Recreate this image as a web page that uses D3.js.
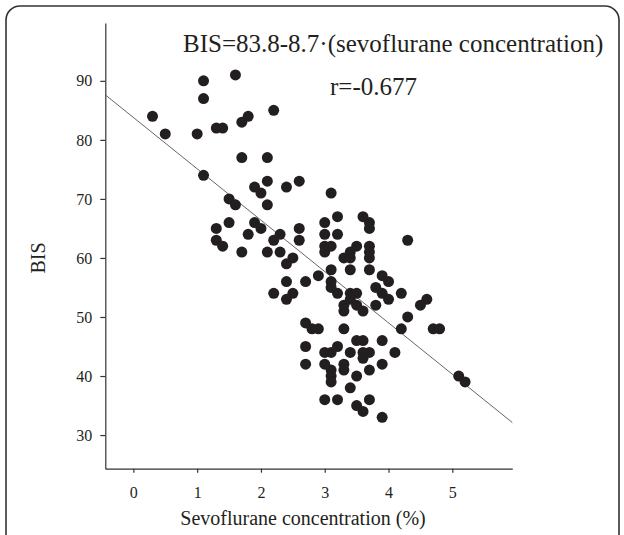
<!DOCTYPE html>
<html><head><meta charset="utf-8">
<script src="https://cdn.jsdelivr.net/npm/d3@7"></script>
<style>
html,body{margin:0;padding:0;background:#fff;}
svg{display:block;}
text{font-family:"Liberation Serif","Times New Roman",serif;fill:#231f20;}
</style></head>
<body>
<script>
const sevo = [0.3,0.5,1.0,1.1,1.1,1.6,1.3,1.4,1.7,1.8,2.2,1.7,2.1,1.1,2.1,1.9,2.0,2.4,2.6,3.1,
1.5,1.6,2.1,1.5,1.3,1.9,2.0,1.8,1.3,1.4,1.7,2.2,2.3,2.1,2.3,2.6,2.6,2.5,2.4,2.2,
2.5,2.4,2.7,2.4,2.9,3.0,3.2,3.6,3.7,3.7,3.0,3.2,4.3,3.0,3.1,3.0,3.5,3.4,3.3,3.4,
3.7,3.7,3.7,3.1,3.4,3.7,3.1,3.9,4.0,3.1,3.2,3.8,3.9,4.0,4.2,3.4,3.5,4.6,4.5,3.3,
3.3,3.5,3.6,3.4,3.8,4.3,4.2,4.7,4.8,3.9,4.1,3.9,5.1,5.2,2.7,2.8,2.9,3.3,2.7,3.0,
3.1,3.2,3.5,3.6,3.4,3.6,3.7,3.6,2.7,3.0,3.1,3.1,3.1,3.3,3.3,3.5,3.7,3.4,3.0,3.2,
3.5,3.6,3.7,3.9];
const bis = [84,81,81,90,87,91,82,82,83,84,85,77,77,74,73,72,71,72,73,71,
70,69,69,66,65,66,65,64,63,62,61,63,64,61,61,65,63,60,59,54,
54,53,56,56,57,66,67,67,66,65,64,64,63,62,62,61,62,61,60,60,
62,61,60,58,58,58,56,57,56,55,54,55,54,53,54,54,54,53,52,52,
51,52,51,53,52,50,48,48,48,46,44,42,40,39,49,48,48,48,45,44,
44,45,46,46,44,44,44,43,42,42,41,40,39,42,41,40,41,38,36,36,
35,34,36,33];
const xTicks = [0,1,2,3,4,5];
const yTicks = [30,40,50,60,70,80,90];
const intercept = 83.8, slope = -8.7;
const xDomain = [-0.44, 5.94];
const yDomain = [24.3, 99.8];
const titleText = "BIS=83.8-8.7\u00b7(sevoflurane concentration)";
const rText = "r=-0.677";
const xLabel = "Sevoflurane concentration (%)";
const yLabel = "BIS";

const W = 624, H = 535;
const svg = d3.select("body").append("svg").attr("width", W).attr("height", H);

// frame
svg.append("rect").attr("x",6).attr("y",6).attr("width",613).attr("height",560)
  .attr("rx",14).attr("ry",14).attr("fill","none").attr("stroke","#333").attr("stroke-width",1.6);

const x = d3.scaleLinear().domain(xDomain).range([105.3, 512.3]);
const y = d3.scaleLinear().domain(yDomain).range([468.7, 23]);

const xAxis = svg.append("g").attr("transform","translate(0,468.7)")
  .call(d3.axisBottom(x).tickValues(xTicks).tickSizeInner(4).tickSizeOuter(0).tickPadding(14).tickFormat(d3.format("d")));
const yAxis = svg.append("g").attr("transform","translate(105.3,0)")
  .call(d3.axisLeft(y).tickValues(yTicks).tickSizeInner(5).tickSizeOuter(0).tickPadding(8).tickFormat(d3.format("d")));
[xAxis,yAxis].forEach(g=>{
  g.select(".domain").attr("stroke","#333").attr("stroke-width",1.2);
  g.selectAll(".tick line").attr("stroke","#333").attr("stroke-width",1.2);
  g.selectAll(".tick text").attr("font-size",16).attr("font-family","Liberation Serif").attr("fill","#231f20");
});

// regression line
svg.append("line")
  .attr("x1", x(xDomain[0])).attr("y1", y(intercept + slope*xDomain[0]))
  .attr("x2", x(xDomain[1])).attr("y2", y(intercept + slope*xDomain[1]))
  .attr("stroke","#555").attr("stroke-width",0.9);

// points
svg.append("g").selectAll("circle").data(sevo.map((s,i)=>[s,bis[i]])).join("circle")
  .attr("cx", d=>x(d[0])).attr("cy", d=>y(d[1])).attr("r",5.5).attr("fill","#231f20");

svg.append("text").attr("x",183).attr("y",52).attr("font-size",25).text(titleText);
svg.append("text").attr("x",330).attr("y",95).attr("font-size",25).text(rText);
svg.append("text").attr("x",303).attr("y",525).attr("text-anchor","middle").attr("font-size",20).text(xLabel);
svg.append("text").attr("transform","translate(45,258) rotate(-90)").attr("text-anchor","middle").attr("font-size",20).text(yLabel);
</script>
</body></html>
